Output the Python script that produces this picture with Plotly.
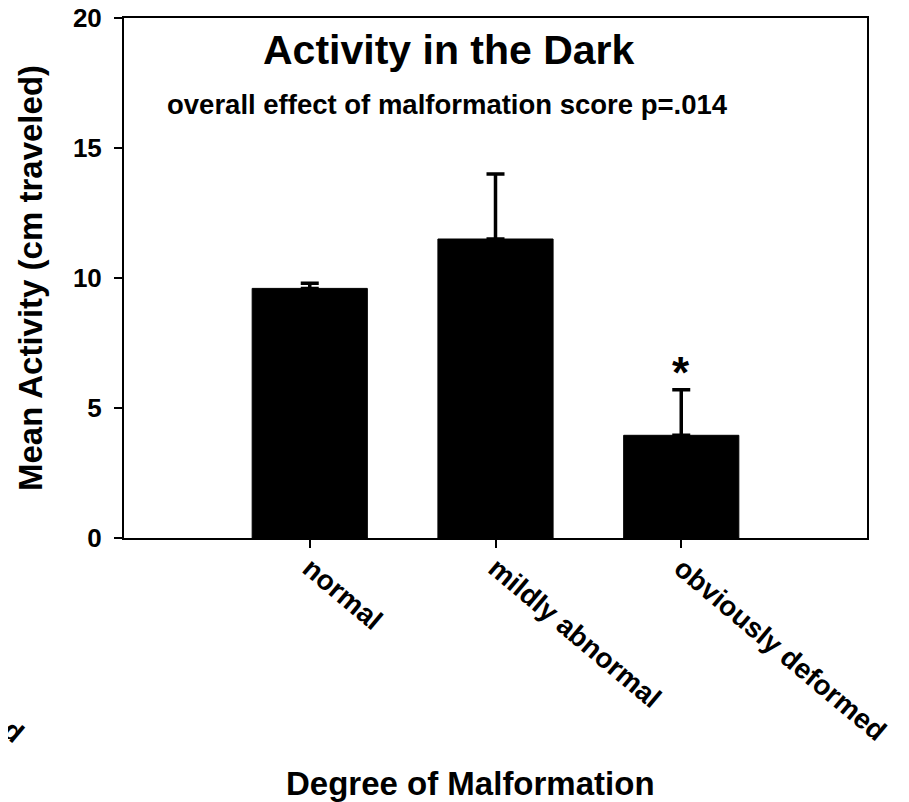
### Import Libraries
import plotly.graph_objects as go
####End of importing libraries


# data
groups = ["normal", "mildly abnormal", "obviously deformed"]
groupPos = [1, 2, 3]
meanActivity = [9.6, 11.5, 3.95]
semActivity = [0.2, 2.5, 1.75]
yTicks = [0, 5, 10, 15, 20]

FONT = "Liberation Sans, Arial, sans-serif"

fig = go.Figure()

fig.add_trace(go.Bar(
    x=groupPos, y=meanActivity, width=0.62,
    marker=dict(color="black", line=dict(color="black", width=1)),
    error_y=dict(type="data", symmetric=False, array=semActivity,
                 arrayminus=[0] * len(semActivity),
                 color="black", thickness=3.5, width=9),
    showlegend=False))

# asterisk over the deformed group
fig.add_annotation(x=groupPos[2], y=meanActivity[2] + semActivity[2],
                   text="<b>*</b>", showarrow=False, yanchor="bottom", yshift=-9,
                   font=dict(family=FONT, size=44, color="black"))

# title + subtitle inside the plot
fig.add_annotation(x=0.437, y=0.987, xref="paper", yref="paper", text="<b>Activity in the Dark</b>",
                   showarrow=False, font=dict(family=FONT, size=41, color="black"))
fig.add_annotation(x=0.435, y=0.868, xref="paper", yref="paper",
                   text="<b>overall effect of malformation score p=.014</b>",
                   showarrow=False, font=dict(family=FONT, size=27.5, color="black"))

# x title
fig.add_annotation(x=0.466, y=-0.512, xref="paper", yref="paper", text="<b>Degree of Malformation</b>",
                   showarrow=False, font=dict(family=FONT, size=33, color="black"))

# stray clipped label at the lower left
fig.add_annotation(x=-0.175, y=-0.41, xref="paper", yref="paper", text="<b>d</b>", textangle=40,
                   showarrow=False, font=dict(family=FONT, size=28, color="black"))

fig.update_xaxes(range=[0, 4], tickvals=groupPos, ticktext=["<b>%s</b>" % g for g in groups],
                 tickangle=40, ticks="outside", ticklen=8, tickwidth=1.5, tickcolor="black",
                 ticklabelstandoff=-7,
                 showline=True, linecolor="black", linewidth=2, mirror=True,
                 showgrid=False, zeroline=False,
                 tickfont=dict(family=FONT, size=28, color="black"))

fig.update_yaxes(range=[0, 20], tickvals=yTicks, ticktext=["<b>%d</b>" % t for t in yTicks],
                 ticks="outside", ticklen=8, tickwidth=1.5, tickcolor="black",
                 ticklabelstandoff=7, ticklabeloverflow="allow",
                 showline=True, linecolor="black", linewidth=2, mirror=True,
                 showgrid=False, zeroline=False,
                 tickfont=dict(family=FONT, size=26, color="black"),
                 title=dict(text="<b>Mean Activity (cm traveled)</b>", standoff=20,
                            font=dict(family=FONT, size=33, color="black")))

fig.update_layout(
    width=901, height=794,
    margin=dict(l=116, r=42, t=10, b=264, autoexpand=False),
    plot_bgcolor="white", paper_bgcolor="white",
    bargap=0.38)

fig.write_html("out.html")
